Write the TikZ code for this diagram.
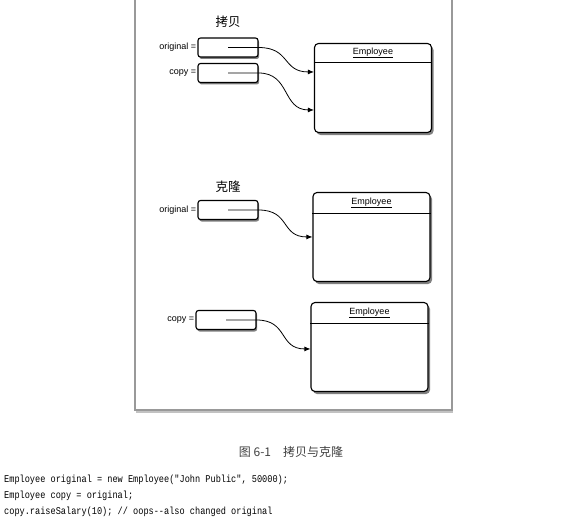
\documentclass[tikz,border=0pt]{standalone}
\usepackage{fontspec}
\setsansfont{Liberation Sans}
\setmonofont{Liberation Mono}
\newfontfamily\cjk{Noto Sans CJK SC}
\usetikzlibrary{arrows.meta,positioning,calc,shadows}

\begin{document}
\begin{tikzpicture}[
    x=1pt, y=-1pt,
    font=\sffamily,
    >={Latex[length=6pt,width=5pt]},
    ref/.style={
        draw,
        rounded corners=2.5pt,
        minimum width=60pt,
        minimum height=19pt,
        line width=1.1pt,
        fill=white,
        drop shadow={shadow xshift=1.2pt, shadow yshift=-2pt, fill=black!70, opacity=0.7}
    },
    obj/.style={
        draw,
        rounded corners=4pt,
        minimum width=117pt,
        minimum height=89pt,
        line width=1.1pt,
        fill=white,
        drop shadow={shadow xshift=2pt, shadow yshift=-2.5pt, fill=black!70, opacity=0.7}
    },
    lbl/.style={
        font=\sffamily\fontsize{9}{10}\selectfont,
        anchor=east,
        inner sep=1pt
    },
    cls/.style={
        font=\sffamily\fontsize{9}{10}\selectfont,
        inner sep=0pt
    },
    title/.style={
        font=\cjk\fontsize{12.5}{14}\selectfont
    },
    code/.style={
        font=\ttfamily\fontsize{8.6}{10}\selectfont,
        anchor=base west,
        inner sep=0pt
    },
    ptr/.style={->, line width=0.8pt}
]

\useasboundingbox (0,0) rectangle (568,527);

% panel behind the figure
\draw[line width=2.5pt, draw=black!40, fill=white,
      drop shadow={shadow xshift=1pt, shadow yshift=-3pt, fill=black!60, opacity=0.4}]
    (135,-10) rectangle (452,410);

% --- shallow copy ---
\node[title] (copytitle) at (228,22) {拷贝};

\node[ref] (o1) at (228,47.5) {};
\node[lbl] at (o1.west) {original =};
\node[ref] (c1) at (228,73) {};
\node[lbl] at (c1.west) {copy =};

\node[obj] (emp1) at (373,88) {};
\draw[line width=0.6pt] ($(emp1.north west)+(0,19)$) -- ($(emp1.north east)+(0,19)$);
\node[cls] at ($(emp1.north)+(0,10)$) {\underline{Employee}};

\coordinate (t1) at ($(emp1.north west)+(0,29)$);
\coordinate (t2) at ($(emp1.north west)+(0,67)$);
\draw[ptr] (o1.center) -- (o1.east) .. controls +(32,0) and +(-32,0) .. (t1);
\draw[ptr] (c1.center) -- (c1.east) .. controls +(32,0) and +(-32,0) .. (t2);

% --- clone ---
\node[title] (clonetitle) at (228,187) {克隆};

\node[ref] (o2) at (228,210) {};
\node[lbl] at (o2.west) {original =};

\node[obj] (emp2) at (371.5,237) {};
\draw[line width=0.6pt] ($(emp2.north west)+(0,21)$) -- ($(emp2.north east)+(0,21)$);
\node[cls] at ($(emp2.north)+(0,11)$) {\underline{Employee}};

\coordinate (t3) at ($(emp2.north west)+(0,45)$);
\draw[ptr] (o2.center) -- (o2.east) .. controls +(32,0) and +(-32,0) .. (t3);

\node[ref] (c2) at (226,320) {};
\node[lbl] at (c2.west) {copy =};

\node[obj] (emp3) at (369.5,347) {};
\draw[line width=0.6pt] ($(emp3.north west)+(0,21)$) -- ($(emp3.north east)+(0,21)$);
\node[cls] at ($(emp3.north)+(0,11)$) {\underline{Employee}};

\coordinate (t4) at ($(emp3.north west)+(0,47)$);
\draw[ptr] (c2.center) -- (c2.east) .. controls +(32,0) and +(-32,0) .. (t4);

% caption and code
\node[font=\cjk\fontsize{12}{14}\selectfont, text=black!75] (caption) at (291,452) {图 6-1\quad 拷贝与克隆};

\node[code] (line1) at (4,482) {\scalebox{1}[1.2]{Employee original = new Employee("John Public", 50000);}};
\node[code] (line2) at (4,498) {\scalebox{1}[1.2]{Employee copy = original;}};
\node[code] (line3) at (4,514) {\scalebox{1}[1.2]{copy.raiseSalary(10); // oops--also changed original}};

\end{tikzpicture}
\end{document}
